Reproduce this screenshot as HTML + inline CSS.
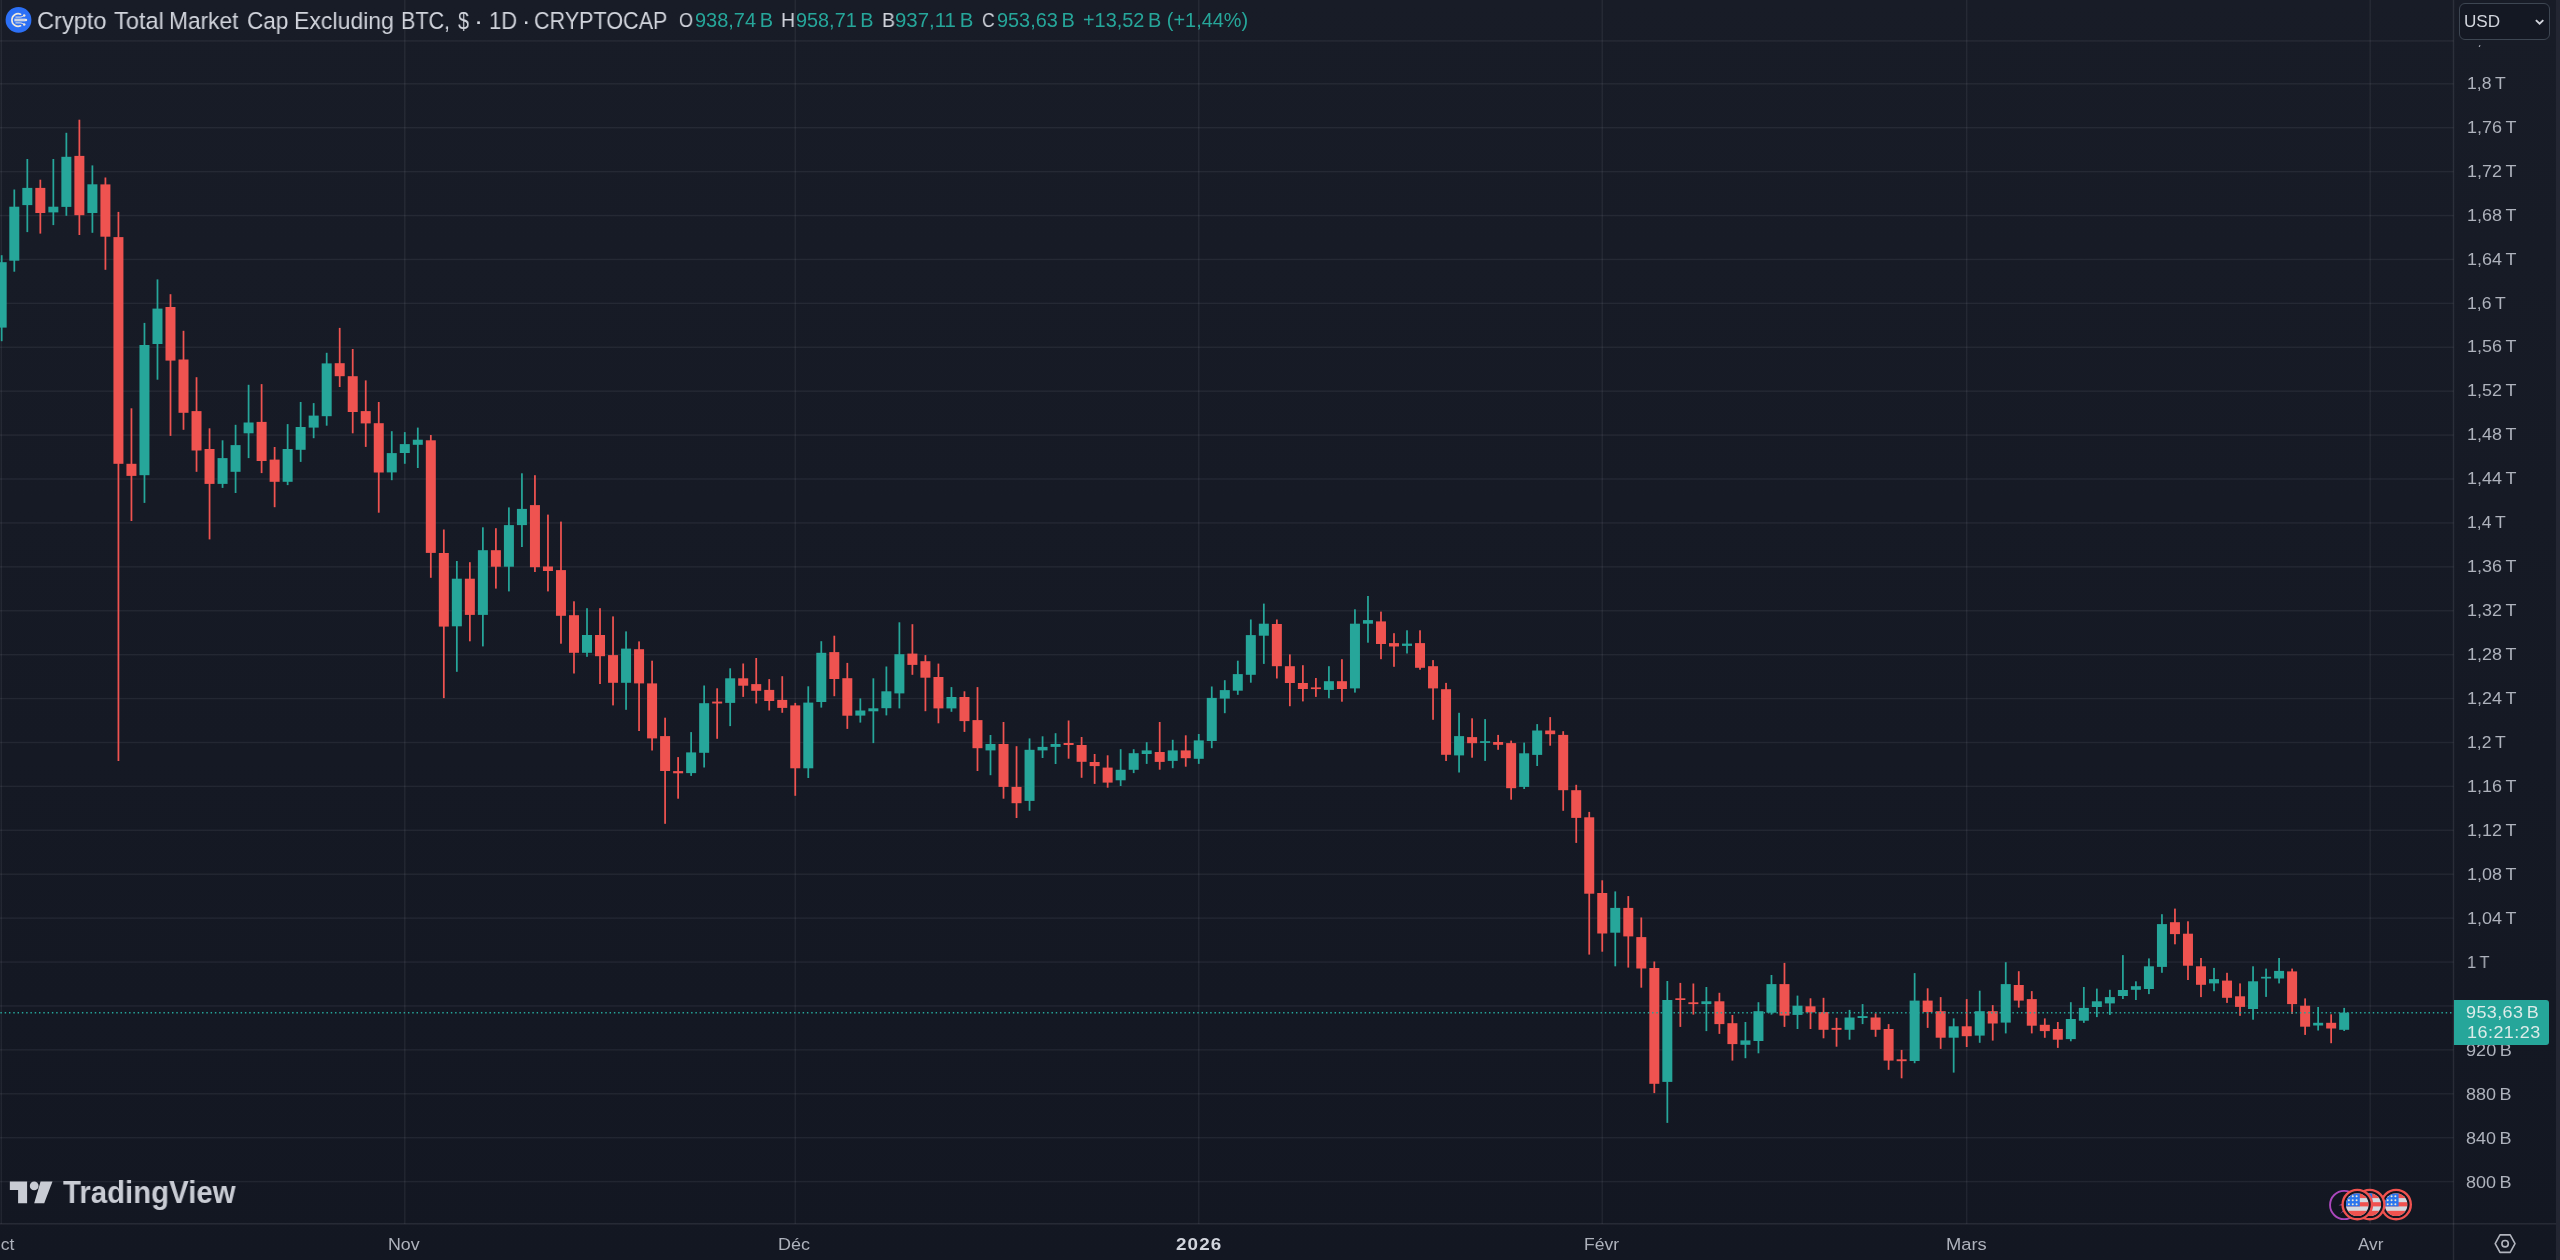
<!DOCTYPE html>
<html lang="fr"><head><meta charset="utf-8"><title>Crypto Total Market Cap Excluding BTC</title>
<style>
html,body{margin:0;padding:0;background:#131722;}
body{width:2560px;height:1260px;overflow:hidden;position:relative;background:linear-gradient(180deg,#181c27 0%,#131722 100%);font-family:"Liberation Sans", sans-serif;color:#b2b5be;}
svg{position:absolute;left:0;top:0;}
.t{position:absolute;white-space:nowrap;line-height:1;will-change:transform;-webkit-font-smoothing:antialiased;}
i{font-style:normal;}
</style></head><body>
<svg width="2560" height="1260" viewBox="0 0 2560 1260">

<rect x="0" y="40.18" width="2453.50" height="1.44" fill="rgba(240,243,250,0.065)"/>
<rect x="0" y="83.08" width="2453.50" height="1.44" fill="rgba(240,243,250,0.065)"/>
<rect x="0" y="126.99" width="2453.50" height="1.44" fill="rgba(240,243,250,0.065)"/>
<rect x="0" y="170.90" width="2453.50" height="1.44" fill="rgba(240,243,250,0.065)"/>
<rect x="0" y="214.82" width="2453.50" height="1.44" fill="rgba(240,243,250,0.065)"/>
<rect x="0" y="258.73" width="2453.50" height="1.44" fill="rgba(240,243,250,0.065)"/>
<rect x="0" y="302.64" width="2453.50" height="1.44" fill="rgba(240,243,250,0.065)"/>
<rect x="0" y="346.55" width="2453.50" height="1.44" fill="rgba(240,243,250,0.065)"/>
<rect x="0" y="390.46" width="2453.50" height="1.44" fill="rgba(240,243,250,0.065)"/>
<rect x="0" y="434.38" width="2453.50" height="1.44" fill="rgba(240,243,250,0.065)"/>
<rect x="0" y="478.29" width="2453.50" height="1.44" fill="rgba(240,243,250,0.065)"/>
<rect x="0" y="522.20" width="2453.50" height="1.44" fill="rgba(240,243,250,0.065)"/>
<rect x="0" y="566.11" width="2453.50" height="1.44" fill="rgba(240,243,250,0.065)"/>
<rect x="0" y="610.02" width="2453.50" height="1.44" fill="rgba(240,243,250,0.065)"/>
<rect x="0" y="653.94" width="2453.50" height="1.44" fill="rgba(240,243,250,0.065)"/>
<rect x="0" y="697.85" width="2453.50" height="1.44" fill="rgba(240,243,250,0.065)"/>
<rect x="0" y="741.76" width="2453.50" height="1.44" fill="rgba(240,243,250,0.065)"/>
<rect x="0" y="785.67" width="2453.50" height="1.44" fill="rgba(240,243,250,0.065)"/>
<rect x="0" y="829.58" width="2453.50" height="1.44" fill="rgba(240,243,250,0.065)"/>
<rect x="0" y="873.50" width="2453.50" height="1.44" fill="rgba(240,243,250,0.065)"/>
<rect x="0" y="917.41" width="2453.50" height="1.44" fill="rgba(240,243,250,0.065)"/>
<rect x="0" y="961.32" width="2453.50" height="1.44" fill="rgba(240,243,250,0.065)"/>
<rect x="0" y="1005.23" width="2453.50" height="1.44" fill="rgba(240,243,250,0.065)"/>
<rect x="0" y="1049.14" width="2453.50" height="1.44" fill="rgba(240,243,250,0.065)"/>
<rect x="0" y="1093.06" width="2453.50" height="1.44" fill="rgba(240,243,250,0.065)"/>
<rect x="0" y="1136.97" width="2453.50" height="1.44" fill="rgba(240,243,250,0.065)"/>
<rect x="0" y="1180.88" width="2453.50" height="1.44" fill="rgba(240,243,250,0.065)"/>
<rect x="0.56" y="0" width="1.44" height="1223.80" fill="rgba(240,243,250,0.065)"/>
<rect x="404.06" y="0" width="1.44" height="1223.80" fill="rgba(240,243,250,0.065)"/>
<rect x="794.54" y="0" width="1.44" height="1223.80" fill="rgba(240,243,250,0.065)"/>
<rect x="1198.04" y="0" width="1.44" height="1223.80" fill="rgba(240,243,250,0.065)"/>
<rect x="1601.53" y="0" width="1.44" height="1223.80" fill="rgba(240,243,250,0.065)"/>
<rect x="1965.98" y="0" width="1.44" height="1223.80" fill="rgba(240,243,250,0.065)"/>
<rect x="2369.48" y="0" width="1.44" height="1223.80" fill="rgba(240,243,250,0.065)"/>
<rect x="0.81" y="255.2" width="1.75" height="86.0" fill="#26a69a"/><rect x="-3.32" y="262.2" width="10.0" height="65.4" fill="#26a69a"/>
<rect x="13.43" y="189.5" width="1.75" height="82.2" fill="#26a69a"/><rect x="9.30" y="206.7" width="10.0" height="54.0" fill="#26a69a"/>
<rect x="26.44" y="159.0" width="1.75" height="73.1" fill="#26a69a"/><rect x="22.32" y="187.9" width="10.0" height="17.2" fill="#26a69a"/>
<rect x="39.46" y="179.7" width="1.75" height="53.9" fill="#ef5350"/><rect x="35.33" y="187.9" width="10.0" height="25.1" fill="#ef5350"/>
<rect x="52.47" y="159.0" width="1.75" height="66.1" fill="#26a69a"/><rect x="48.35" y="206.7" width="10.0" height="5.7" fill="#26a69a"/>
<rect x="65.49" y="132.8" width="1.75" height="83.0" fill="#26a69a"/><rect x="61.36" y="156.8" width="10.0" height="50.1" fill="#26a69a"/>
<rect x="78.50" y="119.7" width="1.75" height="115.3" fill="#ef5350"/><rect x="74.38" y="155.9" width="10.0" height="59.3" fill="#ef5350"/>
<rect x="91.52" y="165.4" width="1.75" height="67.4" fill="#26a69a"/><rect x="87.40" y="184.3" width="10.0" height="28.7" fill="#26a69a"/>
<rect x="104.54" y="177.5" width="1.75" height="92.3" fill="#ef5350"/><rect x="100.41" y="184.4" width="10.0" height="52.3" fill="#ef5350"/>
<rect x="117.55" y="211.9" width="1.75" height="549.1" fill="#ef5350"/><rect x="113.43" y="237.1" width="10.0" height="226.7" fill="#ef5350"/>
<rect x="130.57" y="408.3" width="1.75" height="112.7" fill="#ef5350"/><rect x="126.44" y="463.8" width="10.0" height="12.1" fill="#ef5350"/>
<rect x="143.59" y="322.9" width="1.75" height="180.0" fill="#26a69a"/><rect x="139.46" y="345.0" width="10.0" height="130.2" fill="#26a69a"/>
<rect x="156.60" y="279.4" width="1.75" height="100.3" fill="#26a69a"/><rect x="152.48" y="308.6" width="10.0" height="35.4" fill="#26a69a"/>
<rect x="169.62" y="294.2" width="1.75" height="141.7" fill="#ef5350"/><rect x="165.49" y="307.0" width="10.0" height="53.6" fill="#ef5350"/>
<rect x="182.63" y="330.8" width="1.75" height="99.0" fill="#ef5350"/><rect x="178.51" y="359.5" width="10.0" height="53.3" fill="#ef5350"/>
<rect x="195.65" y="377.2" width="1.75" height="94.6" fill="#ef5350"/><rect x="191.52" y="411.1" width="10.0" height="39.4" fill="#ef5350"/>
<rect x="208.67" y="428.3" width="1.75" height="111.1" fill="#ef5350"/><rect x="204.54" y="449.0" width="10.0" height="34.9" fill="#ef5350"/>
<rect x="221.68" y="440.3" width="1.75" height="47.6" fill="#26a69a"/><rect x="217.56" y="458.1" width="10.0" height="25.8" fill="#26a69a"/>
<rect x="234.70" y="424.8" width="1.75" height="68.2" fill="#26a69a"/><rect x="230.57" y="445.1" width="10.0" height="26.7" fill="#26a69a"/>
<rect x="247.71" y="384.8" width="1.75" height="73.3" fill="#26a69a"/><rect x="243.59" y="422.5" width="10.0" height="10.8" fill="#26a69a"/>
<rect x="260.73" y="384.1" width="1.75" height="89.0" fill="#ef5350"/><rect x="256.60" y="421.9" width="10.0" height="39.1" fill="#ef5350"/>
<rect x="273.75" y="447.0" width="1.75" height="60.2" fill="#ef5350"/><rect x="269.62" y="459.6" width="10.0" height="22.2" fill="#ef5350"/>
<rect x="286.76" y="424.1" width="1.75" height="61.0" fill="#26a69a"/><rect x="282.64" y="449.0" width="10.0" height="32.8" fill="#26a69a"/>
<rect x="299.78" y="402.0" width="1.75" height="59.9" fill="#26a69a"/><rect x="295.65" y="427.0" width="10.0" height="22.8" fill="#26a69a"/>
<rect x="312.79" y="403.1" width="1.75" height="35.1" fill="#26a69a"/><rect x="308.67" y="415.6" width="10.0" height="12.0" fill="#26a69a"/>
<rect x="325.81" y="352.8" width="1.75" height="72.9" fill="#26a69a"/><rect x="321.68" y="363.4" width="10.0" height="52.8" fill="#26a69a"/>
<rect x="338.82" y="327.9" width="1.75" height="59.1" fill="#ef5350"/><rect x="334.70" y="363.2" width="10.0" height="13.0" fill="#ef5350"/>
<rect x="351.84" y="349.0" width="1.75" height="84.3" fill="#ef5350"/><rect x="347.72" y="376.2" width="10.0" height="35.8" fill="#ef5350"/>
<rect x="364.86" y="380.4" width="1.75" height="66.5" fill="#ef5350"/><rect x="360.73" y="411.1" width="10.0" height="12.3" fill="#ef5350"/>
<rect x="377.87" y="402.0" width="1.75" height="110.7" fill="#ef5350"/><rect x="373.75" y="423.2" width="10.0" height="49.3" fill="#ef5350"/>
<rect x="390.89" y="431.2" width="1.75" height="49.0" fill="#26a69a"/><rect x="386.76" y="453.1" width="10.0" height="19.3" fill="#26a69a"/>
<rect x="403.91" y="432.1" width="1.75" height="31.7" fill="#26a69a"/><rect x="399.78" y="444.1" width="10.0" height="8.9" fill="#26a69a"/>
<rect x="416.92" y="427.6" width="1.75" height="40.4" fill="#26a69a"/><rect x="412.80" y="439.7" width="10.0" height="5.1" fill="#26a69a"/>
<rect x="429.94" y="435.0" width="1.75" height="142.8" fill="#ef5350"/><rect x="425.81" y="440.3" width="10.0" height="112.6" fill="#ef5350"/>
<rect x="442.95" y="529.5" width="1.75" height="168.6" fill="#ef5350"/><rect x="438.83" y="553.0" width="10.0" height="73.6" fill="#ef5350"/>
<rect x="455.97" y="561.0" width="1.75" height="110.8" fill="#26a69a"/><rect x="451.84" y="578.7" width="10.0" height="47.6" fill="#26a69a"/>
<rect x="468.99" y="562.2" width="1.75" height="79.1" fill="#ef5350"/><rect x="464.86" y="578.7" width="10.0" height="36.2" fill="#ef5350"/>
<rect x="482.00" y="527.3" width="1.75" height="119.1" fill="#26a69a"/><rect x="477.88" y="550.2" width="10.0" height="64.7" fill="#26a69a"/>
<rect x="495.02" y="528.2" width="1.75" height="60.4" fill="#ef5350"/><rect x="490.89" y="550.2" width="10.0" height="16.5" fill="#ef5350"/>
<rect x="508.03" y="507.4" width="1.75" height="84.0" fill="#26a69a"/><rect x="503.91" y="525.1" width="10.0" height="41.6" fill="#26a69a"/>
<rect x="521.05" y="473.3" width="1.75" height="73.7" fill="#26a69a"/><rect x="516.92" y="508.9" width="10.0" height="16.2" fill="#26a69a"/>
<rect x="534.06" y="475.2" width="1.75" height="96.8" fill="#ef5350"/><rect x="529.94" y="505.1" width="10.0" height="62.1" fill="#ef5350"/>
<rect x="547.08" y="514.6" width="1.75" height="76.8" fill="#ef5350"/><rect x="542.96" y="566.5" width="10.0" height="4.5" fill="#ef5350"/>
<rect x="560.10" y="521.6" width="1.75" height="122.1" fill="#ef5350"/><rect x="555.97" y="570.1" width="10.0" height="45.7" fill="#ef5350"/>
<rect x="573.11" y="601.3" width="1.75" height="72.2" fill="#ef5350"/><rect x="568.99" y="615.2" width="10.0" height="37.6" fill="#ef5350"/>
<rect x="586.13" y="608.2" width="1.75" height="48.6" fill="#26a69a"/><rect x="582.00" y="635.0" width="10.0" height="17.8" fill="#26a69a"/>
<rect x="599.14" y="608.2" width="1.75" height="75.8" fill="#ef5350"/><rect x="595.02" y="635.0" width="10.0" height="21.2" fill="#ef5350"/>
<rect x="612.16" y="616.4" width="1.75" height="89.0" fill="#ef5350"/><rect x="608.04" y="655.1" width="10.0" height="27.7" fill="#ef5350"/>
<rect x="625.18" y="631.4" width="1.75" height="78.4" fill="#26a69a"/><rect x="621.05" y="648.6" width="10.0" height="34.2" fill="#26a69a"/>
<rect x="638.19" y="641.4" width="1.75" height="89.6" fill="#ef5350"/><rect x="634.07" y="649.2" width="10.0" height="34.2" fill="#ef5350"/>
<rect x="651.21" y="660.7" width="1.75" height="89.8" fill="#ef5350"/><rect x="647.08" y="683.4" width="10.0" height="55.0" fill="#ef5350"/>
<rect x="664.22" y="717.7" width="1.75" height="106.1" fill="#ef5350"/><rect x="660.10" y="736.1" width="10.0" height="34.9" fill="#ef5350"/>
<rect x="677.24" y="757.1" width="1.75" height="41.6" fill="#ef5350"/><rect x="673.12" y="771.1" width="10.0" height="2.2" fill="#ef5350"/>
<rect x="690.26" y="732.1" width="1.75" height="43.8" fill="#26a69a"/><rect x="686.13" y="752.4" width="10.0" height="20.7" fill="#26a69a"/>
<rect x="703.27" y="685.5" width="1.75" height="82.0" fill="#26a69a"/><rect x="699.15" y="703.2" width="10.0" height="49.6" fill="#26a69a"/>
<rect x="716.29" y="688.3" width="1.75" height="50.5" fill="#ef5350"/><rect x="712.16" y="701.6" width="10.0" height="1.9" fill="#ef5350"/>
<rect x="729.30" y="668.3" width="1.75" height="57.8" fill="#26a69a"/><rect x="725.18" y="678.3" width="10.0" height="24.6" fill="#26a69a"/>
<rect x="742.32" y="663.5" width="1.75" height="33.4" fill="#ef5350"/><rect x="738.20" y="678.3" width="10.0" height="7.4" fill="#ef5350"/>
<rect x="755.34" y="658.0" width="1.75" height="45.5" fill="#ef5350"/><rect x="751.21" y="684.1" width="10.0" height="6.7" fill="#ef5350"/>
<rect x="768.35" y="679.1" width="1.75" height="31.4" fill="#ef5350"/><rect x="764.23" y="689.9" width="10.0" height="11.1" fill="#ef5350"/>
<rect x="781.37" y="676.2" width="1.75" height="36.6" fill="#ef5350"/><rect x="777.24" y="699.9" width="10.0" height="8.0" fill="#ef5350"/>
<rect x="794.38" y="702.9" width="1.75" height="92.9" fill="#ef5350"/><rect x="790.26" y="705.4" width="10.0" height="62.9" fill="#ef5350"/>
<rect x="807.40" y="686.3" width="1.75" height="91.7" fill="#26a69a"/><rect x="803.28" y="702.6" width="10.0" height="65.7" fill="#26a69a"/>
<rect x="820.42" y="641.2" width="1.75" height="66.4" fill="#26a69a"/><rect x="816.29" y="652.8" width="10.0" height="49.2" fill="#26a69a"/>
<rect x="833.43" y="635.7" width="1.75" height="60.5" fill="#ef5350"/><rect x="829.31" y="652.1" width="10.0" height="26.9" fill="#ef5350"/>
<rect x="846.45" y="662.9" width="1.75" height="66.0" fill="#ef5350"/><rect x="842.32" y="678.2" width="10.0" height="37.5" fill="#ef5350"/>
<rect x="859.46" y="698.4" width="1.75" height="24.2" fill="#26a69a"/><rect x="855.34" y="710.5" width="10.0" height="5.1" fill="#26a69a"/>
<rect x="872.48" y="678.3" width="1.75" height="64.8" fill="#26a69a"/><rect x="868.36" y="708.3" width="10.0" height="3.0" fill="#26a69a"/>
<rect x="885.50" y="666.5" width="1.75" height="48.9" fill="#26a69a"/><rect x="881.37" y="691.3" width="10.0" height="16.9" fill="#26a69a"/>
<rect x="898.51" y="622.3" width="1.75" height="86.1" fill="#26a69a"/><rect x="894.39" y="654.2" width="10.0" height="39.2" fill="#26a69a"/>
<rect x="911.53" y="624.2" width="1.75" height="50.6" fill="#ef5350"/><rect x="907.40" y="653.6" width="10.0" height="11.3" fill="#ef5350"/>
<rect x="924.54" y="655.1" width="1.75" height="56.1" fill="#ef5350"/><rect x="920.42" y="661.2" width="10.0" height="16.5" fill="#ef5350"/>
<rect x="937.56" y="663.6" width="1.75" height="59.7" fill="#ef5350"/><rect x="933.44" y="677.0" width="10.0" height="31.4" fill="#ef5350"/>
<rect x="950.58" y="687.1" width="1.75" height="24.7" fill="#26a69a"/><rect x="946.45" y="697.0" width="10.0" height="11.4" fill="#26a69a"/>
<rect x="963.59" y="691.3" width="1.75" height="40.6" fill="#ef5350"/><rect x="959.47" y="697.0" width="10.0" height="24.1" fill="#ef5350"/>
<rect x="976.61" y="687.1" width="1.75" height="83.9" fill="#ef5350"/><rect x="972.48" y="720.1" width="10.0" height="28.1" fill="#ef5350"/>
<rect x="989.62" y="735.0" width="1.75" height="40.2" fill="#26a69a"/><rect x="985.50" y="744.0" width="10.0" height="6.4" fill="#26a69a"/>
<rect x="1002.64" y="722.0" width="1.75" height="76.7" fill="#ef5350"/><rect x="998.52" y="744.0" width="10.0" height="42.9" fill="#ef5350"/>
<rect x="1015.66" y="746.2" width="1.75" height="71.8" fill="#ef5350"/><rect x="1011.53" y="786.9" width="10.0" height="16.3" fill="#ef5350"/>
<rect x="1028.67" y="738.4" width="1.75" height="72.4" fill="#26a69a"/><rect x="1024.55" y="749.8" width="10.0" height="51.1" fill="#26a69a"/>
<rect x="1041.69" y="736.3" width="1.75" height="21.7" fill="#26a69a"/><rect x="1037.56" y="746.9" width="10.0" height="3.5" fill="#26a69a"/>
<rect x="1054.70" y="733.2" width="1.75" height="30.8" fill="#26a69a"/><rect x="1050.58" y="744.0" width="10.0" height="2.9" fill="#26a69a"/>
<rect x="1067.72" y="720.5" width="1.75" height="38.2" fill="#ef5350"/><rect x="1063.60" y="743.0" width="10.0" height="2.0" fill="#ef5350"/>
<rect x="1080.74" y="737.0" width="1.75" height="40.8" fill="#ef5350"/><rect x="1076.61" y="745.0" width="10.0" height="16.8" fill="#ef5350"/>
<rect x="1093.75" y="754.0" width="1.75" height="29.9" fill="#ef5350"/><rect x="1089.63" y="762.0" width="10.0" height="4.1" fill="#ef5350"/>
<rect x="1106.77" y="755.3" width="1.75" height="32.4" fill="#ef5350"/><rect x="1102.64" y="767.6" width="10.0" height="15.0" fill="#ef5350"/>
<rect x="1119.78" y="749.2" width="1.75" height="36.8" fill="#26a69a"/><rect x="1115.66" y="769.8" width="10.0" height="10.5" fill="#26a69a"/>
<rect x="1132.80" y="749.2" width="1.75" height="23.9" fill="#26a69a"/><rect x="1128.68" y="753.2" width="10.0" height="16.6" fill="#26a69a"/>
<rect x="1145.82" y="742.2" width="1.75" height="21.7" fill="#26a69a"/><rect x="1141.69" y="750.4" width="10.0" height="3.6" fill="#26a69a"/>
<rect x="1158.83" y="722.0" width="1.75" height="47.7" fill="#ef5350"/><rect x="1154.71" y="752.0" width="10.0" height="9.9" fill="#ef5350"/>
<rect x="1171.85" y="739.8" width="1.75" height="28.4" fill="#26a69a"/><rect x="1167.72" y="750.4" width="10.0" height="10.5" fill="#26a69a"/>
<rect x="1184.87" y="735.3" width="1.75" height="31.4" fill="#ef5350"/><rect x="1180.74" y="750.4" width="10.0" height="7.8" fill="#ef5350"/>
<rect x="1197.88" y="734.0" width="1.75" height="29.9" fill="#26a69a"/><rect x="1193.76" y="740.4" width="10.0" height="18.4" fill="#26a69a"/>
<rect x="1210.90" y="686.5" width="1.75" height="61.7" fill="#26a69a"/><rect x="1206.77" y="697.9" width="10.0" height="43.1" fill="#26a69a"/>
<rect x="1223.91" y="680.2" width="1.75" height="33.0" fill="#26a69a"/><rect x="1219.79" y="690.1" width="10.0" height="8.5" fill="#26a69a"/>
<rect x="1236.93" y="660.7" width="1.75" height="34.1" fill="#26a69a"/><rect x="1232.80" y="674.1" width="10.0" height="16.6" fill="#26a69a"/>
<rect x="1249.94" y="619.5" width="1.75" height="63.2" fill="#26a69a"/><rect x="1245.82" y="635.1" width="10.0" height="39.7" fill="#26a69a"/>
<rect x="1262.96" y="603.6" width="1.75" height="60.3" fill="#26a69a"/><rect x="1258.84" y="623.7" width="10.0" height="12.0" fill="#26a69a"/>
<rect x="1275.98" y="619.5" width="1.75" height="59.0" fill="#ef5350"/><rect x="1271.85" y="624.0" width="10.0" height="42.2" fill="#ef5350"/>
<rect x="1288.99" y="654.4" width="1.75" height="51.8" fill="#ef5350"/><rect x="1284.87" y="666.2" width="10.0" height="16.8" fill="#ef5350"/>
<rect x="1302.01" y="665.2" width="1.75" height="36.2" fill="#ef5350"/><rect x="1297.88" y="683.0" width="10.0" height="6.0" fill="#ef5350"/>
<rect x="1315.02" y="678.0" width="1.75" height="18.9" fill="#ef5350"/><rect x="1310.90" y="687.4" width="10.0" height="1.7" fill="#ef5350"/>
<rect x="1328.04" y="666.2" width="1.75" height="32.1" fill="#26a69a"/><rect x="1323.92" y="681.2" width="10.0" height="8.7" fill="#26a69a"/>
<rect x="1341.06" y="659.2" width="1.75" height="42.5" fill="#ef5350"/><rect x="1336.93" y="681.2" width="10.0" height="7.8" fill="#ef5350"/>
<rect x="1354.07" y="609.3" width="1.75" height="83.3" fill="#26a69a"/><rect x="1349.95" y="623.7" width="10.0" height="64.7" fill="#26a69a"/>
<rect x="1367.09" y="596.0" width="1.75" height="46.7" fill="#26a69a"/><rect x="1362.96" y="620.1" width="10.0" height="3.6" fill="#26a69a"/>
<rect x="1380.11" y="611.6" width="1.75" height="47.6" fill="#ef5350"/><rect x="1375.98" y="621.4" width="10.0" height="22.6" fill="#ef5350"/>
<rect x="1393.12" y="633.2" width="1.75" height="33.6" fill="#ef5350"/><rect x="1389.00" y="643.1" width="10.0" height="3.4" fill="#ef5350"/>
<rect x="1406.14" y="630.3" width="1.75" height="23.2" fill="#26a69a"/><rect x="1402.01" y="643.6" width="10.0" height="2.3" fill="#26a69a"/>
<rect x="1419.15" y="630.3" width="1.75" height="39.4" fill="#ef5350"/><rect x="1415.03" y="643.1" width="10.0" height="24.7" fill="#ef5350"/>
<rect x="1432.17" y="660.1" width="1.75" height="59.7" fill="#ef5350"/><rect x="1428.04" y="666.2" width="10.0" height="22.2" fill="#ef5350"/>
<rect x="1445.18" y="682.9" width="1.75" height="78.1" fill="#ef5350"/><rect x="1441.06" y="689.2" width="10.0" height="65.6" fill="#ef5350"/>
<rect x="1458.20" y="712.8" width="1.75" height="59.7" fill="#26a69a"/><rect x="1454.08" y="736.1" width="10.0" height="19.3" fill="#26a69a"/>
<rect x="1471.22" y="718.3" width="1.75" height="39.4" fill="#ef5350"/><rect x="1467.09" y="737.1" width="10.0" height="6.1" fill="#ef5350"/>
<rect x="1484.23" y="719.1" width="1.75" height="41.8" fill="#26a69a"/><rect x="1480.11" y="741.2" width="10.0" height="1.7" fill="#26a69a"/>
<rect x="1497.25" y="734.9" width="1.75" height="14.9" fill="#ef5350"/><rect x="1493.12" y="742.0" width="10.0" height="2.8" fill="#ef5350"/>
<rect x="1510.26" y="740.6" width="1.75" height="59.1" fill="#ef5350"/><rect x="1506.14" y="743.1" width="10.0" height="45.1" fill="#ef5350"/>
<rect x="1523.28" y="742.6" width="1.75" height="46.4" fill="#26a69a"/><rect x="1519.16" y="753.3" width="10.0" height="33.6" fill="#26a69a"/>
<rect x="1536.30" y="724.1" width="1.75" height="41.9" fill="#26a69a"/><rect x="1532.17" y="730.5" width="10.0" height="24.4" fill="#26a69a"/>
<rect x="1549.31" y="717.1" width="1.75" height="28.6" fill="#ef5350"/><rect x="1545.19" y="730.5" width="10.0" height="3.7" fill="#ef5350"/>
<rect x="1562.33" y="731.2" width="1.75" height="79.6" fill="#ef5350"/><rect x="1558.20" y="734.9" width="10.0" height="55.3" fill="#ef5350"/>
<rect x="1575.35" y="784.8" width="1.75" height="58.1" fill="#ef5350"/><rect x="1571.22" y="790.2" width="10.0" height="27.7" fill="#ef5350"/>
<rect x="1588.36" y="811.9" width="1.75" height="142.7" fill="#ef5350"/><rect x="1584.24" y="817.3" width="10.0" height="76.4" fill="#ef5350"/>
<rect x="1601.38" y="880.3" width="1.75" height="71.4" fill="#ef5350"/><rect x="1597.25" y="893.0" width="10.0" height="40.5" fill="#ef5350"/>
<rect x="1614.39" y="891.4" width="1.75" height="74.9" fill="#26a69a"/><rect x="1610.27" y="907.9" width="10.0" height="24.8" fill="#26a69a"/>
<rect x="1627.41" y="896.1" width="1.75" height="71.5" fill="#ef5350"/><rect x="1623.28" y="907.9" width="10.0" height="28.5" fill="#ef5350"/>
<rect x="1640.42" y="917.5" width="1.75" height="70.2" fill="#ef5350"/><rect x="1636.30" y="937.1" width="10.0" height="31.4" fill="#ef5350"/>
<rect x="1653.44" y="961.5" width="1.75" height="131.6" fill="#ef5350"/><rect x="1649.32" y="968.0" width="10.0" height="115.8" fill="#ef5350"/>
<rect x="1666.46" y="981.0" width="1.75" height="141.9" fill="#26a69a"/><rect x="1662.33" y="1000.0" width="10.0" height="81.9" fill="#26a69a"/>
<rect x="1679.47" y="982.9" width="1.75" height="44.0" fill="#ef5350"/><rect x="1675.35" y="998.3" width="10.0" height="1.7" fill="#ef5350"/>
<rect x="1692.49" y="983.5" width="1.75" height="31.1" fill="#ef5350"/><rect x="1688.36" y="1002.3" width="10.0" height="1.8" fill="#ef5350"/>
<rect x="1705.50" y="987.0" width="1.75" height="44.1" fill="#26a69a"/><rect x="1701.38" y="1001.3" width="10.0" height="2.8" fill="#26a69a"/>
<rect x="1718.52" y="992.8" width="1.75" height="41.1" fill="#ef5350"/><rect x="1714.40" y="1001.3" width="10.0" height="22.8" fill="#ef5350"/>
<rect x="1731.54" y="1015.0" width="1.75" height="45.6" fill="#ef5350"/><rect x="1727.41" y="1023.2" width="10.0" height="20.9" fill="#ef5350"/>
<rect x="1744.55" y="1022.0" width="1.75" height="36.2" fill="#26a69a"/><rect x="1740.43" y="1040.4" width="10.0" height="4.4" fill="#26a69a"/>
<rect x="1757.57" y="1002.2" width="1.75" height="51.1" fill="#26a69a"/><rect x="1753.44" y="1011.2" width="10.0" height="29.8" fill="#26a69a"/>
<rect x="1770.59" y="975.0" width="1.75" height="39.6" fill="#26a69a"/><rect x="1766.46" y="984.1" width="10.0" height="28.6" fill="#26a69a"/>
<rect x="1783.60" y="962.9" width="1.75" height="64.0" fill="#ef5350"/><rect x="1779.48" y="984.1" width="10.0" height="31.5" fill="#ef5350"/>
<rect x="1796.62" y="995.6" width="1.75" height="33.4" fill="#26a69a"/><rect x="1792.49" y="1005.7" width="10.0" height="9.2" fill="#26a69a"/>
<rect x="1809.63" y="998.3" width="1.75" height="30.7" fill="#ef5350"/><rect x="1805.51" y="1006.3" width="10.0" height="6.1" fill="#ef5350"/>
<rect x="1822.65" y="997.8" width="1.75" height="40.5" fill="#ef5350"/><rect x="1818.52" y="1012.1" width="10.0" height="17.7" fill="#ef5350"/>
<rect x="1835.66" y="1017.8" width="1.75" height="28.9" fill="#ef5350"/><rect x="1831.54" y="1027.9" width="10.0" height="1.9" fill="#ef5350"/>
<rect x="1848.68" y="1009.9" width="1.75" height="29.8" fill="#26a69a"/><rect x="1844.56" y="1017.5" width="10.0" height="12.3" fill="#26a69a"/>
<rect x="1861.70" y="1004.1" width="1.75" height="20.0" fill="#26a69a"/><rect x="1857.57" y="1016.1" width="10.0" height="1.9" fill="#26a69a"/>
<rect x="1874.71" y="1013.3" width="1.75" height="23.5" fill="#ef5350"/><rect x="1870.59" y="1017.5" width="10.0" height="12.3" fill="#ef5350"/>
<rect x="1887.73" y="1024.1" width="1.75" height="45.7" fill="#ef5350"/><rect x="1883.60" y="1029.0" width="10.0" height="31.6" fill="#ef5350"/>
<rect x="1900.74" y="1049.9" width="1.75" height="28.4" fill="#ef5350"/><rect x="1896.62" y="1059.3" width="10.0" height="1.9" fill="#ef5350"/>
<rect x="1913.76" y="973.1" width="1.75" height="90.1" fill="#26a69a"/><rect x="1909.64" y="1000.6" width="10.0" height="60.4" fill="#26a69a"/>
<rect x="1926.78" y="988.3" width="1.75" height="39.6" fill="#ef5350"/><rect x="1922.65" y="1000.6" width="10.0" height="11.5" fill="#ef5350"/>
<rect x="1939.79" y="997.1" width="1.75" height="51.8" fill="#ef5350"/><rect x="1935.67" y="1011.2" width="10.0" height="26.5" fill="#ef5350"/>
<rect x="1952.81" y="1018.4" width="1.75" height="54.2" fill="#26a69a"/><rect x="1948.68" y="1026.3" width="10.0" height="11.4" fill="#26a69a"/>
<rect x="1965.83" y="999.1" width="1.75" height="47.9" fill="#ef5350"/><rect x="1961.70" y="1026.3" width="10.0" height="9.9" fill="#ef5350"/>
<rect x="1978.84" y="990.7" width="1.75" height="52.1" fill="#26a69a"/><rect x="1974.72" y="1011.2" width="10.0" height="24.4" fill="#26a69a"/>
<rect x="1991.86" y="1005.1" width="1.75" height="35.5" fill="#ef5350"/><rect x="1987.73" y="1011.2" width="10.0" height="12.3" fill="#ef5350"/>
<rect x="2004.87" y="962.2" width="1.75" height="71.2" fill="#26a69a"/><rect x="2000.75" y="984.1" width="10.0" height="38.5" fill="#26a69a"/>
<rect x="2017.89" y="971.2" width="1.75" height="36.4" fill="#ef5350"/><rect x="2013.76" y="985.0" width="10.0" height="15.6" fill="#ef5350"/>
<rect x="2030.90" y="991.1" width="1.75" height="42.3" fill="#ef5350"/><rect x="2026.78" y="999.1" width="10.0" height="26.6" fill="#ef5350"/>
<rect x="2043.92" y="1018.4" width="1.75" height="19.4" fill="#ef5350"/><rect x="2039.80" y="1024.8" width="10.0" height="6.3" fill="#ef5350"/>
<rect x="2056.94" y="1022.0" width="1.75" height="25.9" fill="#ef5350"/><rect x="2052.81" y="1029.0" width="10.0" height="10.7" fill="#ef5350"/>
<rect x="2069.95" y="1002.2" width="1.75" height="39.1" fill="#26a69a"/><rect x="2065.83" y="1019.0" width="10.0" height="20.1" fill="#26a69a"/>
<rect x="2082.97" y="987.0" width="1.75" height="35.9" fill="#26a69a"/><rect x="2078.84" y="1007.9" width="10.0" height="12.8" fill="#26a69a"/>
<rect x="2095.99" y="988.6" width="1.75" height="28.5" fill="#26a69a"/><rect x="2091.86" y="1001.3" width="10.0" height="5.7" fill="#26a69a"/>
<rect x="2109.00" y="989.8" width="1.75" height="25.1" fill="#26a69a"/><rect x="2104.88" y="997.1" width="10.0" height="6.3" fill="#26a69a"/>
<rect x="2122.02" y="955.1" width="1.75" height="43.9" fill="#26a69a"/><rect x="2117.89" y="990.0" width="10.0" height="6.0" fill="#26a69a"/>
<rect x="2135.03" y="981.3" width="1.75" height="18.7" fill="#26a69a"/><rect x="2130.91" y="986.2" width="10.0" height="3.6" fill="#26a69a"/>
<rect x="2148.05" y="958.4" width="1.75" height="35.7" fill="#26a69a"/><rect x="2143.92" y="966.3" width="10.0" height="22.7" fill="#26a69a"/>
<rect x="2161.07" y="914.2" width="1.75" height="58.6" fill="#26a69a"/><rect x="2156.94" y="924.1" width="10.0" height="42.8" fill="#26a69a"/>
<rect x="2174.08" y="908.6" width="1.75" height="35.7" fill="#ef5350"/><rect x="2169.96" y="922.2" width="10.0" height="11.9" fill="#ef5350"/>
<rect x="2187.10" y="921.3" width="1.75" height="58.7" fill="#ef5350"/><rect x="2182.97" y="933.7" width="10.0" height="32.0" fill="#ef5350"/>
<rect x="2200.11" y="958.0" width="1.75" height="39.1" fill="#ef5350"/><rect x="2195.99" y="966.3" width="10.0" height="18.5" fill="#ef5350"/>
<rect x="2213.13" y="967.9" width="1.75" height="23.3" fill="#26a69a"/><rect x="2209.00" y="979.1" width="10.0" height="4.3" fill="#26a69a"/>
<rect x="2226.14" y="972.8" width="1.75" height="30.1" fill="#ef5350"/><rect x="2222.02" y="980.6" width="10.0" height="17.2" fill="#ef5350"/>
<rect x="2239.16" y="983.4" width="1.75" height="32.4" fill="#ef5350"/><rect x="2235.04" y="996.3" width="10.0" height="10.6" fill="#ef5350"/>
<rect x="2252.18" y="966.3" width="1.75" height="53.4" fill="#26a69a"/><rect x="2248.05" y="981.3" width="10.0" height="27.7" fill="#26a69a"/>
<rect x="2265.19" y="968.6" width="1.75" height="28.3" fill="#26a69a"/><rect x="2261.07" y="976.8" width="10.0" height="1.7" fill="#26a69a"/>
<rect x="2278.21" y="958.0" width="1.75" height="25.4" fill="#26a69a"/><rect x="2274.08" y="970.9" width="10.0" height="7.6" fill="#26a69a"/>
<rect x="2291.23" y="968.6" width="1.75" height="45.3" fill="#ef5350"/><rect x="2287.10" y="971.4" width="10.0" height="32.7" fill="#ef5350"/>
<rect x="2304.24" y="998.4" width="1.75" height="36.5" fill="#ef5350"/><rect x="2300.12" y="1005.7" width="10.0" height="21.0" fill="#ef5350"/>
<rect x="2317.26" y="1007.0" width="1.75" height="23.5" fill="#26a69a"/><rect x="2313.13" y="1022.8" width="10.0" height="2.7" fill="#26a69a"/>
<rect x="2330.27" y="1014.3" width="1.75" height="28.9" fill="#ef5350"/><rect x="2326.15" y="1022.8" width="10.0" height="5.7" fill="#ef5350"/>
<rect x="2343.29" y="1007.9" width="1.75" height="23.1" fill="#26a69a"/><rect x="2339.16" y="1012.6" width="10.0" height="17.2" fill="#26a69a"/>
<line x1="0.4" y1="1012.8" x2="2453.5" y2="1012.8" stroke="#26a69a" stroke-width="1.5" stroke-dasharray="1.45 2.84"/>
<rect x="2452.78" y="0" width="1.44" height="1260" fill="rgba(240,243,250,0.095)"/>
<rect x="0" y="1223.08" width="2560" height="1.44" fill="rgba(240,243,250,0.095)"/>
<circle cx="2344.2" cy="1205.0" r="14.15" fill="#121520" stroke="#ab47bc" stroke-width="1.9"/>
<path d="M2343.6 1203.4 l-5.2 1.9 l4.6 0.2 z M2344.6 1209.2 l-4.6 4.6 l1.4 -1.0 l3.6 -2.4 z" fill="#ab47bc"/>
<g><circle cx="2396.1" cy="1204.6" r="14.7" fill="#121520"/><clipPath id="fc3"><circle cx="2396.1" cy="1204.6" r="11.4"/></clipPath><g clip-path="url(#fc3)"><rect x="2384.70" y="1193.20" width="22.8" height="22.8" fill="#d3dbe2"/><rect x="2384.70" y="1193.20" width="22.8" height="4.90" fill="#f0524f"/><rect x="2384.70" y="1202.20" width="22.8" height="4.20" fill="#f0524f"/><rect x="2384.70" y="1210.80" width="22.8" height="5.20" fill="#f0524f"/><rect x="2384.70" y="1193.20" width="13.90" height="13.2" fill="#2b76ee"/><circle cx="2387.70" cy="1196.20" r="1.0" fill="#efe9d6"/><circle cx="2391.55" cy="1196.20" r="1.0" fill="#efe9d6"/><circle cx="2395.40" cy="1196.20" r="1.0" fill="#efe9d6"/><circle cx="2387.70" cy="1200.20" r="1.0" fill="#efe9d6"/><circle cx="2391.55" cy="1200.20" r="1.0" fill="#efe9d6"/><circle cx="2395.40" cy="1200.20" r="1.0" fill="#efe9d6"/><circle cx="2387.70" cy="1204.20" r="1.0" fill="#efe9d6"/><circle cx="2391.55" cy="1204.20" r="1.0" fill="#efe9d6"/><circle cx="2395.40" cy="1204.20" r="1.0" fill="#efe9d6"/></g><circle cx="2396.1" cy="1204.6" r="14.7" fill="none" stroke="#f0524f" stroke-width="2.4"/></g>
<g><circle cx="2369.7" cy="1204.6" r="14.7" fill="#121520"/><clipPath id="fc2"><circle cx="2369.7" cy="1204.6" r="11.4"/></clipPath><g clip-path="url(#fc2)"><rect x="2358.30" y="1193.20" width="22.8" height="22.8" fill="#d3dbe2"/><rect x="2358.30" y="1193.20" width="22.8" height="4.90" fill="#f0524f"/><rect x="2358.30" y="1202.20" width="22.8" height="4.20" fill="#f0524f"/><rect x="2358.30" y="1210.80" width="22.8" height="5.20" fill="#f0524f"/><rect x="2358.30" y="1193.20" width="13.90" height="13.2" fill="#2b76ee"/><circle cx="2361.30" cy="1196.20" r="1.0" fill="#efe9d6"/><circle cx="2365.15" cy="1196.20" r="1.0" fill="#efe9d6"/><circle cx="2369.00" cy="1196.20" r="1.0" fill="#efe9d6"/><circle cx="2361.30" cy="1200.20" r="1.0" fill="#efe9d6"/><circle cx="2365.15" cy="1200.20" r="1.0" fill="#efe9d6"/><circle cx="2369.00" cy="1200.20" r="1.0" fill="#efe9d6"/><circle cx="2361.30" cy="1204.20" r="1.0" fill="#efe9d6"/><circle cx="2365.15" cy="1204.20" r="1.0" fill="#efe9d6"/><circle cx="2369.00" cy="1204.20" r="1.0" fill="#efe9d6"/></g><circle cx="2369.7" cy="1204.6" r="14.7" fill="none" stroke="#f0524f" stroke-width="2.4"/></g>
<g><circle cx="2357.3" cy="1204.6" r="14.7" fill="#121520"/><clipPath id="fc1"><circle cx="2357.3" cy="1204.6" r="11.4"/></clipPath><g clip-path="url(#fc1)"><rect x="2345.90" y="1193.20" width="22.8" height="22.8" fill="#d3dbe2"/><rect x="2345.90" y="1193.20" width="22.8" height="4.90" fill="#f0524f"/><rect x="2345.90" y="1202.20" width="22.8" height="4.20" fill="#f0524f"/><rect x="2345.90" y="1210.80" width="22.8" height="5.20" fill="#f0524f"/><rect x="2345.90" y="1193.20" width="13.90" height="13.2" fill="#2b76ee"/><circle cx="2348.90" cy="1196.20" r="1.0" fill="#efe9d6"/><circle cx="2352.75" cy="1196.20" r="1.0" fill="#efe9d6"/><circle cx="2356.60" cy="1196.20" r="1.0" fill="#efe9d6"/><circle cx="2348.90" cy="1200.20" r="1.0" fill="#efe9d6"/><circle cx="2352.75" cy="1200.20" r="1.0" fill="#efe9d6"/><circle cx="2356.60" cy="1200.20" r="1.0" fill="#efe9d6"/><circle cx="2348.90" cy="1204.20" r="1.0" fill="#efe9d6"/><circle cx="2352.75" cy="1204.20" r="1.0" fill="#efe9d6"/><circle cx="2356.60" cy="1204.20" r="1.0" fill="#efe9d6"/></g><circle cx="2357.3" cy="1204.6" r="14.7" fill="none" stroke="#f0524f" stroke-width="2.4"/></g>
<g fill="#c9ccd4"><path d="M9.85 1181.5H27.1V1203.2H18.1V1190H9.85Z"/><circle cx="34.2" cy="1185.9" r="4.4"/><path d="M40.6 1181.5H52.5L44.2 1203.2H34.2Z"/></g>
<g fill="none" stroke="#b2b5be" stroke-width="1.6" stroke-linejoin="round"><path d="M2495.2 1243.65L2500 1234.9H2510.2L2515 1243.65L2510.2 1252.4H2500Z"/><circle cx="2505.1" cy="1243.65" r="3.2"/></g>
<g><circle cx="18.5" cy="19.9" r="12.9" fill="#2c70f6"/><g fill="none" stroke="#f0e8da" stroke-linecap="round"><path d="M20.6 14.18A6.3 6.3 0 1 0 20.6 25.82" stroke-width="1.65"/><path d="M14.3 20H25.2" stroke-width="2.8" stroke="#c8d3ea" stroke-linecap="butt"/><path d="M15.8 17.1H20.2Q22.3 17.1 23.6 15.9" stroke-width="1.0"/><path d="M15.8 22.9H20.2Q22.3 22.9 23.6 24.1" stroke-width="1.0"/></g><circle cx="24.2" cy="15.5" r="1.25" fill="#f0e8da"/><circle cx="25.9" cy="20" r="1.3" fill="#f0e8da"/><circle cx="24.2" cy="24.4" r="1.25" fill="#f0e8da"/></g>
</svg>

<div style="position:absolute;left:2556.3px;top:0;width:3.7px;height:1260px;background:#232632"></div>
<div class="t" style="left:2466.58px;top:30.78px;font-size:17.14px;color:#aeb2bc;transform:scaleX(1.0493);transform-origin:0 0;">1,84<i style='display:inline-block;width:3.4px'></i>T</div>
<div class="t" style="left:2466.60px;top:74.74px;font-size:17.14px;color:#aeb2bc;transform:scaleX(1.0273);transform-origin:0 0;">1,8<i style='display:inline-block;width:3.4px'></i>T</div>
<div class="t" style="left:2466.58px;top:118.70px;font-size:17.14px;color:#aeb2bc;transform:scaleX(1.0493);transform-origin:0 0;">1,76<i style='display:inline-block;width:3.4px'></i>T</div>
<div class="t" style="left:2466.58px;top:162.66px;font-size:17.14px;color:#aeb2bc;transform:scaleX(1.0493);transform-origin:0 0;">1,72<i style='display:inline-block;width:3.4px'></i>T</div>
<div class="t" style="left:2466.58px;top:206.61px;font-size:17.14px;color:#aeb2bc;transform:scaleX(1.0493);transform-origin:0 0;">1,68<i style='display:inline-block;width:3.4px'></i>T</div>
<div class="t" style="left:2466.58px;top:250.57px;font-size:17.14px;color:#aeb2bc;transform:scaleX(1.0493);transform-origin:0 0;">1,64<i style='display:inline-block;width:3.4px'></i>T</div>
<div class="t" style="left:2466.60px;top:294.53px;font-size:17.14px;color:#aeb2bc;transform:scaleX(1.0273);transform-origin:0 0;">1,6<i style='display:inline-block;width:3.4px'></i>T</div>
<div class="t" style="left:2466.58px;top:338.49px;font-size:17.14px;color:#aeb2bc;transform:scaleX(1.0493);transform-origin:0 0;">1,56<i style='display:inline-block;width:3.4px'></i>T</div>
<div class="t" style="left:2466.58px;top:382.45px;font-size:17.14px;color:#aeb2bc;transform:scaleX(1.0493);transform-origin:0 0;">1,52<i style='display:inline-block;width:3.4px'></i>T</div>
<div class="t" style="left:2466.58px;top:426.40px;font-size:17.14px;color:#aeb2bc;transform:scaleX(1.0493);transform-origin:0 0;">1,48<i style='display:inline-block;width:3.4px'></i>T</div>
<div class="t" style="left:2466.58px;top:470.36px;font-size:17.14px;color:#aeb2bc;transform:scaleX(1.0493);transform-origin:0 0;">1,44<i style='display:inline-block;width:3.4px'></i>T</div>
<div class="t" style="left:2466.60px;top:514.32px;font-size:17.14px;color:#aeb2bc;transform:scaleX(1.0273);transform-origin:0 0;">1,4<i style='display:inline-block;width:3.4px'></i>T</div>
<div class="t" style="left:2466.58px;top:558.28px;font-size:17.14px;color:#aeb2bc;transform:scaleX(1.0493);transform-origin:0 0;">1,36<i style='display:inline-block;width:3.4px'></i>T</div>
<div class="t" style="left:2466.58px;top:602.24px;font-size:17.14px;color:#aeb2bc;transform:scaleX(1.0493);transform-origin:0 0;">1,32<i style='display:inline-block;width:3.4px'></i>T</div>
<div class="t" style="left:2466.58px;top:646.19px;font-size:17.14px;color:#aeb2bc;transform:scaleX(1.0493);transform-origin:0 0;">1,28<i style='display:inline-block;width:3.4px'></i>T</div>
<div class="t" style="left:2466.58px;top:690.15px;font-size:17.14px;color:#aeb2bc;transform:scaleX(1.0493);transform-origin:0 0;">1,24<i style='display:inline-block;width:3.4px'></i>T</div>
<div class="t" style="left:2466.60px;top:734.11px;font-size:17.14px;color:#aeb2bc;transform:scaleX(1.0273);transform-origin:0 0;">1,2<i style='display:inline-block;width:3.4px'></i>T</div>
<div class="t" style="left:2466.58px;top:778.07px;font-size:17.14px;color:#aeb2bc;transform:scaleX(1.0493);transform-origin:0 0;">1,16<i style='display:inline-block;width:3.4px'></i>T</div>
<div class="t" style="left:2466.58px;top:822.03px;font-size:17.14px;color:#aeb2bc;transform:scaleX(1.0493);transform-origin:0 0;">1,12<i style='display:inline-block;width:3.4px'></i>T</div>
<div class="t" style="left:2466.58px;top:865.98px;font-size:17.14px;color:#aeb2bc;transform:scaleX(1.0493);transform-origin:0 0;">1,08<i style='display:inline-block;width:3.4px'></i>T</div>
<div class="t" style="left:2466.58px;top:909.94px;font-size:17.14px;color:#aeb2bc;transform:scaleX(1.0493);transform-origin:0 0;">1,04<i style='display:inline-block;width:3.4px'></i>T</div>
<div class="t" style="left:2466.67px;top:953.90px;font-size:17.14px;color:#aeb2bc;transform:scaleX(0.9625);transform-origin:0 0;">1<i style='display:inline-block;width:3.4px'></i>T</div>
<div class="t" style="left:2465.95px;top:1041.82px;font-size:17.14px;color:#aeb2bc;transform:scaleX(1.0577);transform-origin:0 0;">920<i style='display:inline-block;width:3.4px'></i>B</div>
<div class="t" style="left:2466.24px;top:1085.77px;font-size:17.14px;color:#aeb2bc;transform:scaleX(1.0510);transform-origin:0 0;">880<i style='display:inline-block;width:3.4px'></i>B</div>
<div class="t" style="left:2466.24px;top:1129.73px;font-size:17.14px;color:#aeb2bc;transform:scaleX(1.0510);transform-origin:0 0;">840<i style='display:inline-block;width:3.4px'></i>B</div>
<div class="t" style="left:2466.24px;top:1173.69px;font-size:17.14px;color:#aeb2bc;transform:scaleX(1.0510);transform-origin:0 0;">800<i style='display:inline-block;width:3.4px'></i>B</div>
<div style="position:absolute;left:2455px;top:0;width:101px;height:45.4px;background:#181c27"></div>
<div style="position:absolute;left:2459px;top:3.2px;width:90.8px;height:36.5px;box-sizing:border-box;border:1.4px solid #3d4652;border-radius:6px;background:#141823"></div>
<svg style="left:2533px;top:16px" width="14" height="12" viewBox="0 0 14 12"><path d="M2.9 4.1L6.6 7.7L10.3 4.1" fill="none" stroke="#d1d4dc" stroke-width="1.9"/></svg>
<div style="position:absolute;left:2454.3px;top:1000.2px;width:94.6px;height:44.8px;background:#26a69a;border-radius:0 3px 3px 0"></div>
<div class="t" style="left:-12.52px;top:1235.59px;font-size:17.14px;color:#aeb2bc;transform:scaleX(1.0266);transform-origin:0 0;">Oct</div>
<div class="t" style="left:387.91px;top:1235.59px;font-size:17.14px;color:#aeb2bc;transform:scaleX(1.0402);transform-origin:0 0;">Nov</div>
<div class="t" style="left:778.49px;top:1235.59px;font-size:17.14px;color:#aeb2bc;transform:scaleX(1.0498);transform-origin:0 0;">Déc</div>
<div class="t" style="left:1175.81px;top:1235.59px;font-size:17.14px;color:#d1d4dc;font-weight:bold;letter-spacing:1.042px;transform:scaleX(1.1);transform-origin:0 0;">2026</div>
<div class="t" style="left:1583.83px;top:1235.59px;font-size:17.14px;color:#aeb2bc;transform:scaleX(1.0220);transform-origin:0 0;">Févr</div>
<div class="t" style="left:1945.57px;top:1235.59px;font-size:17.14px;color:#aeb2bc;transform:scaleX(1.0708);transform-origin:0 0;">Mars</div>
<div class="t" style="left:2357.50px;top:1235.59px;font-size:17.14px;color:#aeb2bc;transform:scaleX(0.9879);transform-origin:0 0;">Avr</div>
<div class="t" style="left:37.39px;top:8.73px;font-size:24.3px;color:#d1d4dc;transform:scaleX(0.9721);transform-origin:0 0;">Crypto</div>
<div class="t" style="left:114.03px;top:8.73px;font-size:24.3px;color:#d1d4dc;transform:scaleX(0.9697);transform-origin:0 0;">Total</div>
<div class="t" style="left:169.47px;top:8.73px;font-size:24.3px;color:#d1d4dc;transform:scaleX(0.9351);transform-origin:0 0;">Market</div>
<div class="t" style="left:247.04px;top:8.73px;font-size:24.3px;color:#d1d4dc;transform:scaleX(0.9281);transform-origin:0 0;">Cap</div>
<div class="t" style="left:294.45px;top:8.73px;font-size:24.3px;color:#d1d4dc;transform:scaleX(0.9486);transform-origin:0 0;">Excluding</div>
<div class="t" style="left:400.56px;top:8.73px;font-size:24.3px;color:#d1d4dc;transform:scaleX(0.8878);transform-origin:0 0;">BTC,</div>
<div class="t" style="left:457.75px;top:8.73px;font-size:24.3px;color:#d1d4dc;transform:scaleX(0.8089);transform-origin:0 0;">$</div>
<div class="t" style="left:474.25px;top:8.73px;font-size:24.3px;color:#d1d4dc;transform:scaleX(1.1280);transform-origin:0 0;">·</div>
<div class="t" style="left:488.87px;top:8.73px;font-size:24.3px;color:#d1d4dc;transform:scaleX(0.9059);transform-origin:0 0;">1D</div>
<div class="t" style="left:522.00px;top:8.73px;font-size:24.3px;color:#d1d4dc;transform:scaleX(1.0340);transform-origin:0 0;">·</div>
<div class="t" style="left:534.39px;top:8.73px;font-size:24.3px;color:#d1d4dc;transform:scaleX(0.8875);transform-origin:0 0;">CRYPTOCAP</div>
<div class="t" style="left:678.95px;top:10.18px;font-size:20.4px;color:#d1d4dc;transform:scaleX(0.8837);transform-origin:0 0;">O</div>
<div class="t" style="left:694.66px;top:11.31px;font-size:19.6px;color:#26a69a;transform:scaleX(1.0191);transform-origin:0 0;">938,74<i style='display:inline-block;width:3.6px'></i>B</div>
<div class="t" style="left:780.97px;top:10.18px;font-size:20.4px;color:#d1d4dc;transform:scaleX(0.9584);transform-origin:0 0;">H</div>
<div class="t" style="left:795.97px;top:11.31px;font-size:19.6px;color:#26a69a;transform:scaleX(1.0131);transform-origin:0 0;">958,71<i style='display:inline-block;width:3.6px'></i>B</div>
<div class="t" style="left:881.58px;top:10.18px;font-size:20.4px;color:#d1d4dc;transform:scaleX(0.9544);transform-origin:0 0;">B</div>
<div class="t" style="left:895.29px;top:11.31px;font-size:19.6px;color:#26a69a;transform:scaleX(1.0420);transform-origin:0 0;">937,11<i style='display:inline-block;width:3.6px'></i>B</div>
<div class="t" style="left:982.27px;top:10.18px;font-size:20.4px;color:#d1d4dc;transform:scaleX(0.8645);transform-origin:0 0;">C</div>
<div class="t" style="left:996.82px;top:11.31px;font-size:19.6px;color:#26a69a;transform:scaleX(1.0151);transform-origin:0 0;">953,63<i style='display:inline-block;width:3.6px'></i>B</div>
<div class="t" style="left:1082.82px;top:11.31px;font-size:19.6px;color:#26a69a;transform:scaleX(1.0152);transform-origin:0 0;">+13,52<i style='display:inline-block;width:3.6px'></i>B (+1,44%)</div>
<div class="t" style="left:2464.14px;top:12.94px;font-size:17.14px;color:#d1d4dc;transform:scaleX(0.9882);transform-origin:0 0;">USD</div>
<div class="t" style="left:2465.86px;top:1003.99px;font-size:17.14px;color:#dcebe9;letter-spacing:0.370px;transform:scaleX(1.05);transform-origin:0 0;">953,63<i style='display:inline-block;width:3.2px'></i>B</div>
<div class="t" style="left:2466.88px;top:1023.99px;font-size:17.14px;color:#dcebe9;letter-spacing:0.442px;transform:scaleX(1.05);transform-origin:0 0;">16:21:23</div>
<div class="t" style="left:62.50px;top:1176.54px;font-size:31.5px;color:#c9ccd4;font-weight:bold;transform:scaleX(0.9325);transform-origin:0 0;">TradingView</div>
</body></html>
